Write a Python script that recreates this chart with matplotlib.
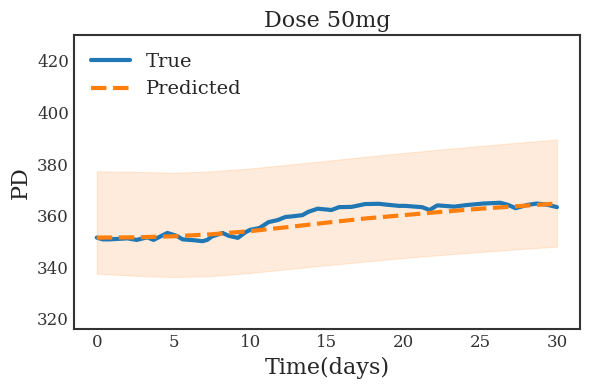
import matplotlib
matplotlib.use("Agg")
import matplotlib.pyplot as plt

# True PD curve
true_days = [0, 0.4, 0.8, 2.0, 2.6, 3.3, 3.7, 4.6, 5.2, 5.6, 6.3, 6.9, 7.2, 7.5,
             8.2, 8.6, 9.2, 9.7, 10.0, 10.6, 11.2, 11.8, 12.3, 12.7, 13.4, 13.8,
             14.4, 15.3, 15.8, 16.6, 17.1, 17.5, 18.4, 19.0, 19.7, 20.1, 21.2,
             21.7, 22.2, 23.3, 24.1, 25.2, 26.3, 26.8, 27.3, 28.1, 28.7, 29.4, 30.0]
true_pd = [351.5, 350.8, 350.8, 351.2, 350.6, 351.6, 350.6, 353.3, 352.2, 350.8,
           350.5, 350.1, 350.6, 351.9, 353.3, 352.2, 351.4, 353.6, 354.5, 355.2,
           357.5, 358.3, 359.5, 359.7, 360.2, 361.5, 362.7, 362.2, 363.3, 363.4,
           364.0, 364.5, 364.6, 364.2, 363.8, 363.8, 363.3, 362.2, 364.0, 363.5,
           364.1, 364.7, 365.0, 364.2, 362.9, 364.2, 364.7, 364.2, 363.3]

# Prediction with its band
pred_days = [0, 2.5, 5, 7.5, 10, 12.5, 15, 17.5, 20, 22.5, 25, 27.5, 30]
pred_pd = [351.5, 351.6, 352.0, 352.8, 354.0, 355.6, 357.3, 358.9, 360.2,
           361.5, 362.7, 363.7, 364.7]
pred_upper = [377.2, 377.0, 376.6, 377.2, 378.3, 379.8, 381.3, 382.8, 384.3,
              385.7, 387.0, 388.3, 389.5]
pred_lower = [337.5, 336.7, 336.2, 336.6, 337.8, 339.3, 340.8, 342.2, 343.6,
              344.8, 345.9, 347.0, 348.0]

plt.style.use("seaborn-v0_8-white")
plt.rcParams["font.family"] = "DejaVu Serif"

fig, ax = plt.subplots(figsize=(5.9, 3.9), dpi=100)
fig.subplots_adjust(left=0.125, right=0.983, top=0.91, bottom=0.156)

ax.fill_between(pred_days, pred_lower, pred_upper, color="#ff7f0e", alpha=0.15, linewidth=0.8)
ax.plot(true_days, true_pd, color="#1f77b4", lw=3, label="True")
ax.plot(pred_days, pred_pd, color="#ff7f0e", lw=3, ls="--", label="Predicted")

ax.set_ylim(316, 430)
ax.set_yticks([320, 340, 360, 380, 400, 420])
ax.set_xticks([0, 5, 10, 15, 20, 25, 30])
ax.tick_params(labelsize=12, colors="#333333")
for s in ax.spines.values():
    s.set_color("#333333")
    s.set_linewidth(1.5)

ax.set_title("Dose 50mg", fontsize=16, color="#262626")
ax.set_xlabel("Time(days)", fontsize=16, color="#262626")
ax.set_ylabel("PD", fontsize=16, color="#262626")
ax.legend(loc="upper left", fontsize=14)

plt.savefig("out.png", dpi=100)
